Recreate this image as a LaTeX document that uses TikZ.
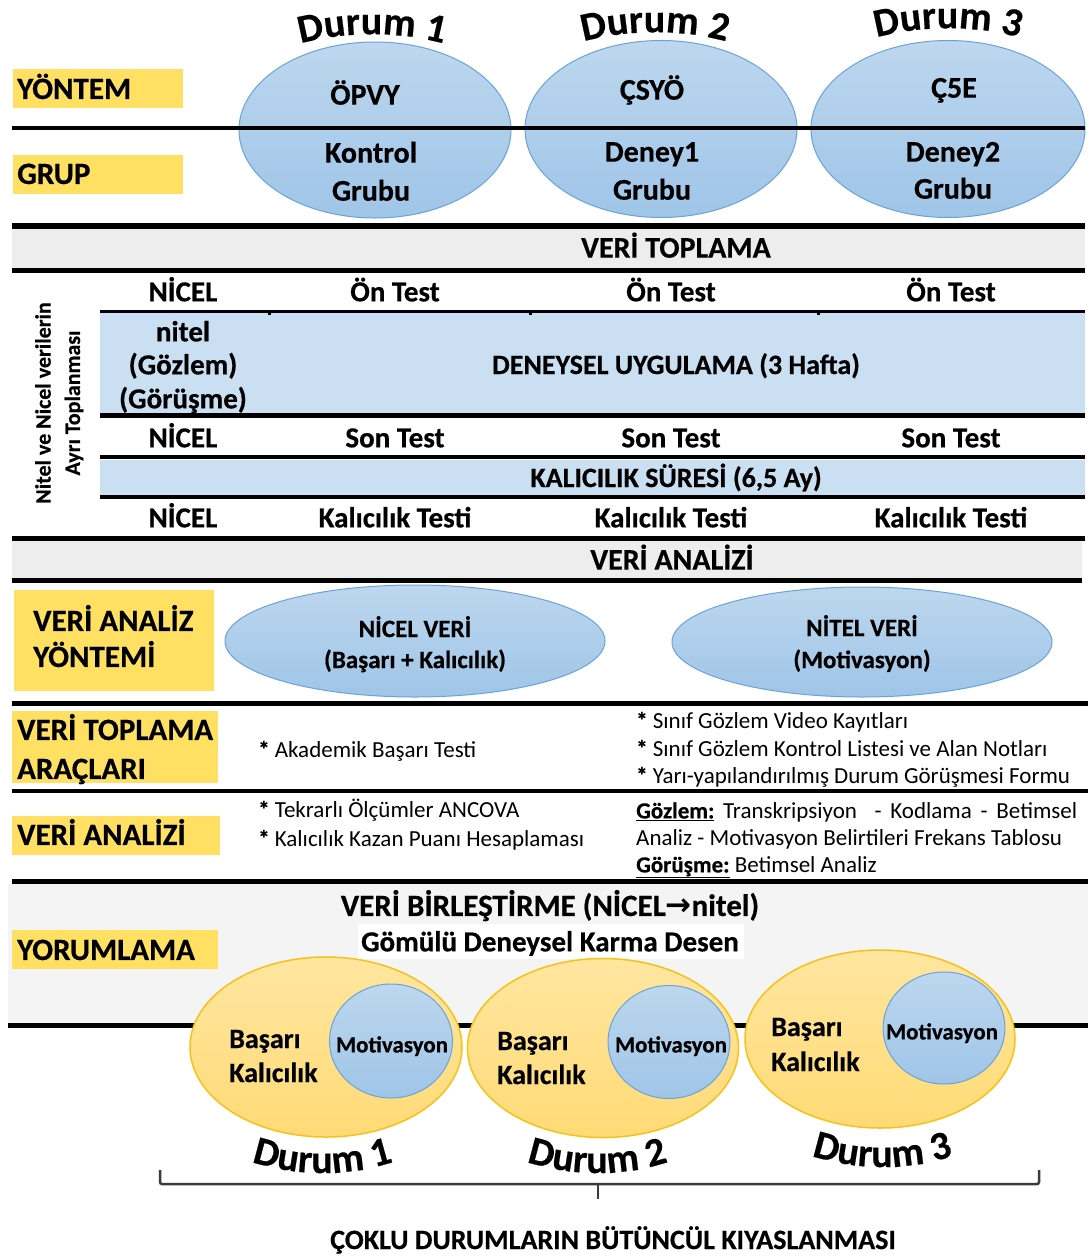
\documentclass[tikz,border=0pt]{standalone}
\usepackage{fontspec}
\setmainfont{Carlito}[BoldFeatures={FakeBold=0.5}]
\newfontfamily\arrowfont{DejaVu Sans}
\usetikzlibrary{shapes.geometric,decorations.text}

\newcommand\setpx[1]{\fontsize{#1}{#1}\selectfont}
\newcommand\durumfont{\bfseries\setpx{40}}

\definecolor{tagyellow}{HTML}{FFE062}
\definecolor{bandgray}{HTML}{EDEDED}
\definecolor{panelgray}{HTML}{F4F4F4}
\definecolor{bandblue}{HTML}{CADFF2}
\definecolor{ovaltop}{HTML}{BDD7EE}
\definecolor{ovalbot}{HTML}{9FC5E8}
\definecolor{ovaledge}{HTML}{6AA3D8}
\definecolor{goldtop}{HTML}{FFE6A0}
\definecolor{goldbot}{HTML}{FFDA76}
\definecolor{goldedge}{HTML}{F6C21A}
\definecolor{bracegray}{HTML}{3A3A3A}

\begin{document}
\begin{tikzpicture}[
  x=1pt, y=-1pt,
  tx/.style={inner sep=0pt, anchor=base, font=\bfseries\setpx{#1}, yshift=-0.322*#1pt},
  rtx/.style={inner sep=0pt, anchor=base, font=\setpx{#1}, yshift=-0.322*#1pt},
  tagbox/.style={fill=tagyellow, inner sep=0pt, anchor=north west},
  hrule/.style={draw=black, line width=#1, line cap=butt},
  blueoval/.style={ellipse, draw=ovaledge, line width=1pt, top color=ovaltop, bottom color=ovalbot, inner sep=0pt},
  goldoval/.style={ellipse, draw=goldedge, line width=1.5pt, top color=goldtop, bottom color=goldbot, inner sep=0pt},
  arched/.style={decorate, decoration={text along path, text={|\durumfont|#1}, text align=center}},
  bracepath/.style={draw=bracegray, line width=2.5pt, rounded corners=2pt},
]
\fill[white] (0,0) rectangle (1088,1256);
\useasboundingbox (0,0) rectangle (1088,1256);

% ---------- background bands ----------
\fill[bandgray] (12,229) rectangle (1085,268);
\fill[bandblue] (100,313) rectangle (1085,413);
\fill[bandblue] (100,460) rectangle (1085,495);
\fill[bandgray] (12,541) rectangle (1082,578);
\fill[panelgray] (8,884) rectangle (1088,1023);

% ---------- case labels above the method ovals ----------
\path[arched={Durum 1}] (254,62) .. controls (320,25) and (424,25) .. (490,62);
\path[arched={Durum 2}] (537,60) .. controls (603,23) and (707,23) .. (773,60);
\path[arched={Durum 3}] (830,56) .. controls (896,19) and (1000,19) .. (1066,56);

% ---------- method / group ovals ----------
\node[blueoval, minimum width=272, minimum height=176] (o1) at (375,130) {};
\node[blueoval, minimum width=272, minimum height=177] (o2) at (661,129) {};
\node[blueoval, minimum width=274, minimum height=177] (o3) at (948,129) {};
\draw[hrule=4pt] (12,128) -- (1085,128);

\node[tagbox, minimum width=170, minimum height=39] (ybox) at (13,69) {};
\node[tx=31, anchor=base west] (ylbl) at (17,89) {YÖNTEM};
\node[tagbox, minimum width=170, minimum height=39] (gbox) at (13,155) {};
\node[tx=31, anchor=base west] (glbl) at (17,174) {GRUP};

\node[tx=30] (m1) at (365,95) {ÖPVY};
\node[tx=30] (k1) at (371,153) {Kontrol};
\node[tx=30] (g1) at (371,191) {Grubu};
\node[tx=30] (m2) at (652,90) {ÇSYÖ};
\node[tx=30] (k2) at (652,152) {Deney1};
\node[tx=30] (g2) at (652,190) {Grubu};
\node[tx=30] (m3) at (954,88) {Ç5E};
\node[tx=30] (k3) at (953,152) {Deney2};
\node[tx=30] (g3) at (953,189) {Grubu};

% ---------- data collection table ----------
\draw[hrule=6pt] (12,226) -- (1085,226);
\node[tx=30] (vt) at (676,248) {VERİ TOPLAMA};
\draw[hrule=5pt] (12,270) -- (1085,270);

\node[inner sep=0pt, font=\bfseries\setpx{22}, rotate=90] (side1) at (43,403) {Nitel ve Nicel verilerin};
\node[inner sep=0pt, font=\bfseries\setpx{22}, rotate=90] (side2) at (74,403) {Ayrı Toplanması};

\node[tx=29] (r1a) at (183,292) {NİCEL};
\node[tx=29] (r1b) at (395,292) {Ön Test};
\node[tx=29] (r1c) at (671,292) {Ön Test};
\node[tx=29] (r1d) at (951,292) {Ön Test};
\draw[hrule=3pt] (100,311) -- (1085,311);
\fill (268,311) rectangle (271,315);
\fill (529,311) rectangle (532,315);
\fill (817,311) rectangle (820,315);

\node[tx=29] (r2a) at (183,332) {nitel};
\node[tx=29] (r2b) at (183,365) {(Gözlem)};
\node[tx=29] (r2c) at (183,399) {(Görüşme)};
\node[tx=28] (r2d) at (676,365) {DENEYSEL UYGULAMA (3 Hafta)};
\draw[hrule=5pt] (100,415) -- (1085,415);

\node[tx=29] (r3a) at (183,438) {NİCEL};
\node[tx=29] (r3b) at (395,438) {Son Test};
\node[tx=29] (r3c) at (671,438) {Son Test};
\node[tx=29] (r3d) at (951,438) {Son Test};
\draw[hrule=4pt] (100,457) -- (1085,457);

\node[tx=28] (r4) at (676,478) {KALICILIK SÜRESİ (6,5 Ay)};
\draw[hrule=4pt] (100,497) -- (1085,497);

\node[tx=29] (r5a) at (183,518) {NİCEL};
\node[tx=29] (r5b) at (395,518) {Kalıcılık Testi};
\node[tx=29] (r5c) at (671,518) {Kalıcılık Testi};
\node[tx=29] (r5d) at (951,518) {Kalıcılık Testi};
\draw[hrule=5pt] (12,538) -- (1085,538);

% ---------- data analysis ----------
\node[tx=30] (va) at (672,560) {VERİ ANALİZİ};
\draw[hrule=5pt] (12,580) -- (1082,580);

\node[tagbox, minimum width=200, minimum height=101] (vabox) at (14,590) {};
\node[tx=31, anchor=base west] (val1) at (33,621) {VERİ ANALİZ};
\node[tx=31, anchor=base west] (val2) at (33,657) {YÖNTEMİ};

\node[blueoval, minimum width=380, minimum height=112] (nicel) at (415,641) {};
\node[tx=25] (nicel1) at (415,629) {NİCEL VERİ};
\node[tx=25] (nicel2) at (415,660) {(Başarı + Kalıcılık)};
\node[blueoval, minimum width=380, minimum height=110] (nitel) at (862,642) {};
\node[tx=25] (nitel1) at (862,628) {NİTEL VERİ};
\node[tx=25] (nitel2) at (862,660) {(Motivasyon)};
\draw[hrule=5pt] (12,703) -- (1088,703);

\node[tagbox, minimum width=206, minimum height=72] (vtbox) at (12,711) {};
\node[tx=31, anchor=base west] (vtl1) at (17,730) {VERİ TOPLAMA};
\node[tx=31, anchor=base west] (vtl2) at (17,769) {ARAÇLARI};

\node[rtx=23, anchor=base west] (tool1) at (258,750) {\textbf{*} Akademik Başarı Testi};
\node[rtx=23, anchor=base west] (tool2) at (636,721) {\textbf{*} Sınıf Gözlem Video Kayıtları};
\node[rtx=23, anchor=base west] (tool3) at (636,749) {\textbf{*} Sınıf Gözlem Kontrol Listesi ve Alan Notları};
\node[rtx=23, anchor=base west] (tool4) at (636,776) {\textbf{*} Yarı-yapılandırılmış Durum Görüşmesi Formu};
\draw[hrule=4pt] (12,791) -- (1088,791);

\node[tagbox, minimum width=208, minimum height=39] (anbox) at (12,816) {};
\node[tx=31, anchor=base west] (anl) at (17,835) {VERİ ANALİZİ};

\node[rtx=23, anchor=base west] (an1) at (258,810) {\textbf{*} Tekrarlı Ölçümler ANCOVA};
\node[rtx=23, anchor=base west] (an2) at (258,839) {\textbf{*} Kalıcılık Kazan Puanı Hesaplaması};
\node[rtx=23, anchor=base west] (an3) at (636,811)
  {\makebox[441pt][s]{\underline{\textbf{Gözlem:}} Transkripsiyon \ - Kodlama - Betimsel}};
\node[rtx=23, anchor=base west] (an4) at (636,838) {Analiz - Motivasyon Belirtileri Frekans Tablosu};
\node[rtx=23, anchor=base west] (an5) at (636,865) {\underline{\textbf{Görüşme:}} Betimsel Analiz};
\draw[hrule=5pt] (12,881) -- (1088,881);

% ---------- interpretation ----------
\node[tx=31] (merge) at (550,906) {VERİ BİRLEŞTİRME (NİCEL{\arrowfont\bfseries →}nitel)};
\node[fill=white, inner sep=0pt, minimum width=386, minimum height=35] (designbg) at (551,941) {};
\node[tx=29] (design) at (550,942) {Gömülü Deneysel Karma Desen};

\node[tagbox, minimum width=206, minimum height=39] (ybox2) at (12,930) {};
\node[tx=31, anchor=base west] (yorum) at (17,950) {YORUMLAMA};

\draw[hrule=5pt] (8,1025) -- (1088,1025);

\node[goldoval, minimum width=272, minimum height=180] (c1) at (326,1047) {};
\node[goldoval, minimum width=271, minimum height=179] (c2) at (603,1048) {};
\node[goldoval, minimum width=270, minimum height=178] (c3) at (880,1039) {};
\node[blueoval, minimum width=123, minimum height=114] (mv1) at (391,1041) {};
\node[blueoval, minimum width=122, minimum height=113] (mv2) at (669,1042) {};
\node[blueoval, minimum width=122, minimum height=112] (mv3) at (944,1028) {};

\node[tx=28, anchor=base west] (b1) at (229,1039) {Başarı};
\node[tx=28, anchor=base west] (k1b) at (229,1073) {Kalıcılık};
\node[tx=23] (mt1) at (392,1045) {Motivasyon};
\node[tx=28, anchor=base west] (b2) at (497,1041) {Başarı};
\node[tx=28, anchor=base west] (k2b) at (497,1075) {Kalıcılık};
\node[tx=23] (mt2) at (671,1045) {Motivasyon};
\node[tx=28, anchor=base west] (b3) at (771,1027) {Başarı};
\node[tx=28, anchor=base west] (k3b) at (771,1062) {Kalıcılık};
\node[tx=23] (mt3) at (942,1032) {Motivasyon};

% ---------- case labels under the integration ovals ----------
\path[arched={Durum 1}] (205,1140) .. controls (275,1184) and (370,1184) .. (440,1140);
\path[arched={Durum 2}] (480,1140) .. controls (550,1184) and (645,1184) .. (715,1140);
\path[arched={Durum 3}] (765,1134) .. controls (835,1178) and (930,1178) .. (1000,1134);

% ---------- grouping brace ----------
\coordinate (brL) at (160,1170);
\coordinate (brR) at (1039,1170);
\coordinate (brM) at (598,1184);
\coordinate (brTip) at (598,1199);
\draw[bracepath] (brL) -- (160,1184) -- (1039,1184) -- (brR);
\draw[bracepath] (brM) -- (brTip);

\node[tx=28] (summary) at (613,1240) {ÇOKLU DURUMLARIN BÜTÜNCÜL KIYASLANMASI};
\end{tikzpicture}
\end{document}
